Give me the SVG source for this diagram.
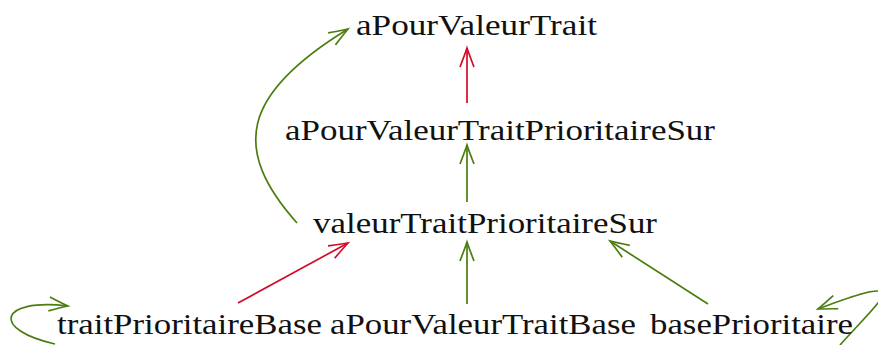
<svg xmlns="http://www.w3.org/2000/svg" width="878" height="345" viewBox="0 0 878 345">
<defs>
<style>
.lbl{font-family:"Liberation Serif","Times New Roman",serif;font-size:29px;fill:#111}
.e{fill:none;stroke-width:1.7}
.g{stroke:#4b7d0f}
.r{stroke:#d40a2a}
</style>
<marker id="ag" markerUnits="userSpaceOnUse" markerWidth="24" markerHeight="20" refX="0" refY="0" viewBox="-20 -10 24 20" orient="auto" overflow="visible">
<path d="M-19,-7 Q-6,-2 0,0 Q-6,2 -19,7" fill="none" stroke="#4b7d0f" stroke-width="1.7"/>
</marker>
<marker id="ar" markerUnits="userSpaceOnUse" markerWidth="24" markerHeight="20" refX="0" refY="0" viewBox="-20 -10 24 20" orient="auto" overflow="visible">
<path d="M-19,-7 Q-6,-2 0,0 Q-6,2 -19,7" fill="none" stroke="#d40a2a" stroke-width="1.7"/>
</marker>
</defs>
<g id="connectors">
<path class="e r" d="M467,103 L467,48" marker-end="url(#ar)"/>
<path class="e g" d="M467,202 L467,145" marker-end="url(#ag)"/>
<path class="e g" d="M467,304 L467,242" marker-end="url(#ag)"/>
<path class="e r" d="M238,303 L348,243" marker-end="url(#ar)"/>
<path class="e g" d="M708,304 L610,241" marker-end="url(#ag)"/>
<path class="e g" d="M297,223 C232,150 240,95 348,29" marker-end="url(#ag)"/>
<path class="e g" d="M55,344 C-8,330 -3,298 68,306" marker-end="url(#ag)"/>
<path class="e g" d="M840,345 C880,300 920,270 818,309" marker-end="url(#ag)"/>
</g>
<g id="n1"><text class="lbl" x="356" y="35" textLength="241" lengthAdjust="spacingAndGlyphs">aPourValeurTrait</text></g>
<g id="n2"><text class="lbl" x="285" y="140" textLength="430" lengthAdjust="spacingAndGlyphs">aPourValeurTraitPrioritaireSur</text></g>
<g id="n3"><text class="lbl" x="313" y="233" textLength="344" lengthAdjust="spacingAndGlyphs">valeurTraitPrioritaireSur</text></g>
<g id="n4"><text class="lbl" x="57" y="334" textLength="265" lengthAdjust="spacingAndGlyphs">traitPrioritaireBase</text></g>
<g id="n5"><text class="lbl" x="330" y="334" textLength="306" lengthAdjust="spacingAndGlyphs">aPourValeurTraitBase</text></g>
<g id="n6"><text class="lbl" x="650" y="334" textLength="203" lengthAdjust="spacingAndGlyphs">basePrioritaire</text></g>
</svg>
